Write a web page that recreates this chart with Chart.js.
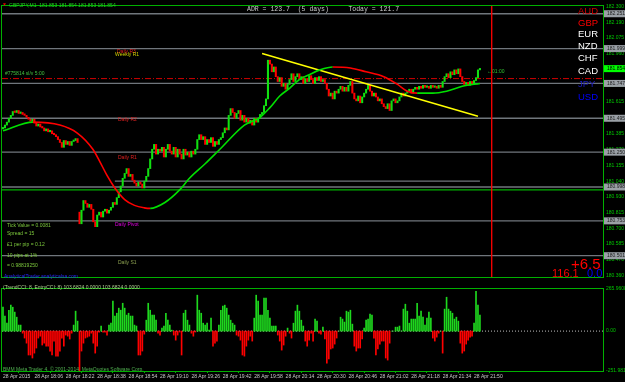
<!DOCTYPE html>
<html>
<head>
<meta charset="utf-8">
<script src="https://cdn.jsdelivr.net/npm/chart.js@4.4.1/dist/chart.umd.min.js"></script>
<style>
html, body { margin: 0; padding: 0; background: #000; }
#wrap { position: relative; width: 625px; height: 382px; overflow: hidden; background: #000; }
canvas { position: absolute; left: 0; }
.t { position: absolute; white-space: nowrap; font-family: "Liberation Sans", Arial, sans-serif; font-size: 5px; line-height: 1; }
.cur { font-size: 9.5px; left: 578px; }
</style>
</head>
<body>
<div id="wrap">
  <canvas id="price" width="625" height="283" style="top:0"></canvas>
  <canvas id="cci" width="625" height="99" style="top:283px"></canvas>

  <div class="t" style="left:2px;top:2px;color:#e00000">&#9660;</div>
  <div class="t" style="left:9px;top:2.5px;color:#20d020">GBPJPY,M1&nbsp; 181.853 181.854 181.853 181.854</div>
  <div class="t" style="left:247px;top:6.5px;font-family:'Liberation Mono',monospace;font-size:6.5px;color:#c8c8c8;white-space:pre">ADR = 123.7  (5 days)     Today = 121.7</div>

  <div class="t cur" style="top:6px;color:#cc0000">AUD</div>
  <div class="t cur" style="top:18px;color:#ff0000">GBP</div>
  <div class="t cur" style="top:29px;color:#ffffff">EUR</div>
  <div class="t cur" style="top:41px;color:#ffffff">NZD</div>
  <div class="t cur" style="top:53px;color:#ffffff">CHF</div>
  <div class="t cur" style="top:66px;color:#ffffff">CAD</div>
  <div class="t cur" style="top:79px;color:#1c1cc0">JPY</div>
  <div class="t cur" style="top:92px;color:#0000ff">USD</div>

  <div class="t" style="left:117px;top:48.5px;color:#e02020">Daily R3</div>
  <div class="t" style="left:115px;top:51.5px;color:#d0d000">Weekly R1</div>
  <div class="t" style="left:118px;top:116.5px;color:#e02020">Daily R2</div>
  <div class="t" style="left:118px;top:154.5px;color:#e02020">Daily R1</div>
  <div class="t" style="left:115px;top:221.5px;color:#e000e0">Daily Pivot</div>
  <div class="t" style="left:118px;top:259.5px;color:#8ca050">Daily S1</div>

  <div class="t" style="left:5px;top:71px;color:#40c040">#775814 sl/v 5:00</div>
  <div class="t" style="left:487px;top:68.5px;color:#30c030">&#8592;01:00</div>

  <div class="t" style="left:7px;top:222.5px;color:#7cc83c">Tick Value = 0.0081</div>
  <div class="t" style="left:7px;top:230.5px;color:#7cc83c">Spread = 15</div>
  <div class="t" style="left:7px;top:241.5px;color:#7cc83c">£1 per pip = 0.12</div>
  <div class="t" style="left:7px;top:252.5px;color:#7cc83c">10 pips at 1%</div>
  <div class="t" style="left:7px;top:262.5px;color:#7cc83c">= 0.98819250</div>
  <div class="t" style="left:4px;top:273.5px;color:#2828ff">AnalyticalTrader.analyticalsa.com</div>

  <div class="t" style="left:571px;top:256px;font-size:15px;color:#ff0000">+6.5</div>
  <div class="t" style="left:552px;top:268px;font-size:11px;color:#ff0000">116.1</div>
  <div class="t" style="left:587px;top:268px;font-size:11px;color:#0000ff">0.0</div>

  <div class="t" style="left:3px;top:285px;color:#b0d090">(TrendCCI: 8, EntryCCI: 8) 103.6824 0.0000 103.6824 0.0000</div>
  <div class="t" style="left:3px;top:366.5px;color:#50b050">BMM Meta Trader 4, © 2001-2014, MetaQuotes Software Corp.</div>
</div>

<script>
// GBPJPY M1, one bar per minute from 17:50
const opens = [
  181.418, 181.425, 181.446, 181.467, 181.495, 181.516, 181.544, 181.537, 181.551, 181.530,
  181.537, 181.523, 181.516, 181.502, 181.488, 181.474, 181.488, 181.460, 181.439, 181.453,
  181.432, 181.425, 181.404, 181.418, 181.397, 181.404, 181.383, 181.376, 181.362, 181.341,
  181.320, 181.285, 181.334, 181.306, 181.327, 181.299, 181.327, 181.334, 181.348, 180.816,
  180.732, 180.830, 180.900, 180.879, 180.851, 180.872, 180.837, 180.746, 180.711, 180.795,
  180.816, 180.781, 180.823, 180.837, 180.809, 180.830, 180.851, 180.886, 180.872, 180.921,
  180.963, 181.005, 181.061, 181.096, 181.131, 181.075, 181.089, 181.047, 181.026, 181.005,
  181.033, 181.019, 180.991, 181.040, 181.075, 181.131, 181.201, 181.271, 181.306, 181.236,
  181.271, 181.257, 181.285, 181.215, 181.271, 181.306, 181.257, 181.236, 181.285, 181.215,
  181.271, 181.236, 181.201, 181.271, 181.229, 181.250, 181.215, 181.257, 181.236, 181.271,
  181.341, 181.376, 181.341, 181.362, 181.306, 181.341, 181.320, 181.355, 181.292, 181.327,
  181.306, 181.341, 181.355, 181.390, 181.425, 181.411, 181.516, 181.565, 181.537, 181.495,
  181.530, 181.551, 181.481, 181.516, 181.467, 181.495, 181.460, 181.481, 181.446, 181.495,
  181.467, 181.495, 181.523, 181.537, 181.586, 181.635, 181.915, 181.887, 181.831, 181.866,
  181.796, 181.761, 181.789, 181.726, 181.747, 181.705, 181.740, 181.775, 181.817, 181.761,
  181.796, 181.817, 181.775, 181.796, 181.747, 181.782, 181.761, 181.803, 181.775, 181.747,
  181.789, 181.768, 181.796, 181.761, 181.775, 181.747, 181.705, 181.656, 181.677, 181.635,
  181.691, 181.677, 181.705, 181.726, 181.691, 181.719, 181.691, 181.733, 181.761, 181.677,
  181.635, 181.621, 181.656, 181.607, 181.649, 181.677, 181.705, 181.733, 181.691, 181.656,
  181.677, 181.649, 181.621, 181.635, 181.600, 181.579, 181.565, 181.600, 181.551, 181.621,
  181.635, 181.607, 181.621, 181.649, 181.677, 181.656, 181.677, 181.691, 181.705, 181.677,
  181.705, 181.719, 181.705, 181.726, 181.712, 181.733, 181.719, 181.726, 181.712, 181.733,
  181.719, 181.726, 181.712, 181.733, 181.719, 181.761, 181.796, 181.817, 181.789, 181.831,
  181.810, 181.845, 181.817, 181.852, 181.796, 181.761, 181.740, 181.754, 181.733, 181.761,
  181.747, 181.768, 181.789, 181.845
];
const closes = [
  181.425, 181.446, 181.467, 181.495, 181.516, 181.544, 181.537, 181.551, 181.530, 181.537,
  181.523, 181.516, 181.502, 181.488, 181.474, 181.488, 181.460, 181.439, 181.453, 181.432,
  181.425, 181.404, 181.418, 181.397, 181.404, 181.383, 181.376, 181.362, 181.341, 181.320,
  181.285, 181.334, 181.306, 181.327, 181.299, 181.327, 181.334, 181.348, 181.320, 180.732,
  180.830, 180.900, 180.879, 180.851, 180.872, 180.837, 180.746, 180.711, 180.795, 180.816,
  180.781, 180.823, 180.837, 180.809, 180.830, 180.851, 180.886, 180.872, 180.921, 180.963,
  181.005, 181.061, 181.096, 181.131, 181.075, 181.089, 181.047, 181.026, 181.005, 181.033,
  181.019, 180.991, 181.040, 181.075, 181.131, 181.201, 181.271, 181.306, 181.236, 181.271,
  181.257, 181.285, 181.215, 181.271, 181.306, 181.257, 181.236, 181.285, 181.215, 181.271,
  181.236, 181.201, 181.271, 181.229, 181.250, 181.215, 181.257, 181.236, 181.271, 181.341,
  181.376, 181.341, 181.362, 181.306, 181.341, 181.320, 181.355, 181.292, 181.327, 181.306,
  181.341, 181.355, 181.390, 181.425, 181.411, 181.516, 181.565, 181.537, 181.495, 181.530,
  181.551, 181.481, 181.516, 181.467, 181.495, 181.460, 181.481, 181.446, 181.495, 181.467,
  181.495, 181.523, 181.537, 181.586, 181.635, 181.915, 181.887, 181.831, 181.866, 181.796,
  181.761, 181.789, 181.726, 181.747, 181.705, 181.740, 181.775, 181.817, 181.761, 181.796,
  181.817, 181.775, 181.796, 181.747, 181.782, 181.761, 181.803, 181.775, 181.747, 181.789,
  181.768, 181.796, 181.761, 181.775, 181.747, 181.705, 181.656, 181.677, 181.635, 181.691,
  181.677, 181.705, 181.726, 181.691, 181.719, 181.691, 181.733, 181.761, 181.677, 181.635,
  181.621, 181.656, 181.607, 181.649, 181.677, 181.705, 181.733, 181.691, 181.656, 181.677,
  181.649, 181.621, 181.635, 181.600, 181.579, 181.565, 181.600, 181.551, 181.621, 181.635,
  181.607, 181.621, 181.649, 181.677, 181.656, 181.677, 181.691, 181.705, 181.677, 181.705,
  181.719, 181.705, 181.726, 181.712, 181.733, 181.719, 181.726, 181.712, 181.733, 181.719,
  181.726, 181.712, 181.733, 181.719, 181.761, 181.796, 181.817, 181.789, 181.831, 181.810,
  181.845, 181.817, 181.852, 181.796, 181.761, 181.740, 181.754, 181.733, 181.761, 181.747,
  181.768, 181.789, 181.845, 181.854
];

// moving average, sampled along the bars (bar index, price)
const maX = [0, 15.3, 29, 37.7, 45.8, 49.4, 53, 57, 62, 67, 72, 75, 82.5, 90, 95, 103, 110.5, 123, 131, 136,
             141, 146, 151, 156, 161.5, 168, 177, 185, 194, 201, 206, 211, 219, 226, 234, 243];
const maY = [181.404, 181.467, 181.446, 181.390, 181.271, 181.180, 181.082, 180.991, 180.907, 180.865,
             180.847, 180.843, 180.886, 180.977, 181.061, 181.166, 181.271, 181.446, 181.502, 181.572,
             181.656, 181.712, 181.775, 181.810, 181.845, 181.866, 181.859, 181.831, 181.796, 181.740,
             181.691, 181.677, 181.677, 181.691, 181.726, 181.747];

// TrendCCI histogram
const cci = [
  151, 95, 50, 132, 164, 151, 120, 88, 38, 38,
  -13, -44, -76, -151, -151, -170, -139, -107, -44, -32,
  -88, -76, -95, -95, -126, -151, -63, -158, -158, -126,
  -44, -95, -25, -32, -50, -13, 38, 126, 63, -252,
  -126, -76, -44, -38, -32, -13, -76, -139, -95, -6,
  32, -6, -6, -25, 38, 50, 189, 95, 113, 145,
  132, 176, 145, 101, 113, 95, 95, 38, 32, -151,
  -151, -126, -19, 69, 176, 132, 101, 101, 69, -13,
  -25, 19, 32, 113, 69, 38, 6, -25, -57, -25,
  -6, -151, 113, 132, 69, 38, -13, -32, -6, 227,
  132, 113, 50, 38, 50, 6, 82, -95, -76, -63,
  38, 132, 158, 164, 145, 101, 69, 50, 38, -25,
  -32, -57, -151, -158, -95, -57, -32, -63, 82, 227,
  189, 101, 101, 208, 208, 132, 82, 32, 32, 32,
  -25, -63, -120, -88, -32, 19, -13, -44, 50, 126,
  164, 126, 69, 32, -63, -95, -57, -13, -63, 76,
  63, -13, -19, 25, -50, -202, -176, -113, -107, -82,
  -44, 0, 88, 76, 57, 126, 120, 132, 44, -95,
  -126, -107, -107, -50, 19, 69, 76, 107, 101, -44,
  -151, -113, -82, -63, -63, -170, -183, -76, 0, 0,
  25, 25, 32, 0, 139, 170, 126, 50, 76, 76,
  76, 176, 95, 126, 88, 38, 82, 120, 82, -44,
  -63, -38, -13, 0, -139, 139, 214, 139, 126, 113,
  76, 88, 63, -76, -139, -126, -82, -57, -38, -32,
  50, 252, 164, 101
];

const pivotLevels = [182.251, 181.999, 181.747, 181.495, 181.250, 180.998, 180.753, 180.501];
const weeklyLevel = 181.040;
const greenLevel = 180.977;
const stopLevel = 181.782;
const lastPrice = 181.854;
const trendX = [132, 242];
const trendY = [181.964, 181.509];
const nowBar = 249;

const priceTicks = [182.300, 182.190, 182.075, 181.960, 181.845, 181.730, 181.615, 181.500, 181.385,
                    181.270, 181.155, 181.040, 180.930, 180.815, 180.700, 180.585, 180.470, 180.360];
const cciTicks = [-251.9813, 0, 265.9608];
const timeTicks = [0, 16, 32, 48, 64, 80, 96, 112, 128, 144, 160, 176, 192, 208, 224, 240];
const timeLabels = ['28 Apr 2015', '28 Apr 18:06', '28 Apr 18:22', '28 Apr 18:38', '28 Apr 18:54',
                    '28 Apr 19:10', '28 Apr 19:26', '28 Apr 19:42', '28 Apr 19:58', '28 Apr 20:14',
                    '28 Apr 20:30', '28 Apr 20:46', '28 Apr 21:02', '28 Apr 21:18', '28 Apr 21:34',
                    '28 Apr 21:50'];

const xMin = -0.5, xMax = 305.7;
const UP = '#10e010', DOWN = '#ff0000', FRAME = '#00b000', AXIS_TXT = '#00c800';

const frame = {
  id: 'frame',
  afterDraw(chart) {
    const { ctx, chartArea: a } = chart;
    ctx.save();
    ctx.strokeStyle = FRAME;
    ctx.lineWidth = 1;
    ctx.strokeRect(a.left - 0.5, a.top - 0.5, a.right - a.left + 1, a.bottom - a.top + 1);
    ctx.restore();
  }
};

// grey price boxes for the pivot lines, green box for the bid
const axisBoxes = {
  id: 'axisBoxes',
  afterDraw(chart) {
    const y = chart.scales.y, ctx = chart.ctx, x0 = chart.chartArea.right + 1;
    ctx.save();
    ctx.font = '5px "Liberation Sans"';
    ctx.textBaseline = 'middle';
    pivotLevels.forEach(v => {
      const py = y.getPixelForValue(v);
      ctx.fillStyle = '#9aa0a6';
      ctx.fillRect(x0, py - 3.5, 22, 7);
      ctx.fillStyle = '#202020';
      ctx.fillText(v.toFixed(3), x0 + 3, py);
    });
    const pc = y.getPixelForValue(lastPrice);
    ctx.fillStyle = '#00ff00';
    ctx.fillRect(x0, pc - 3.5, 22, 7);
    ctx.fillStyle = '#000';
    ctx.fillText(lastPrice.toFixed(3), x0 + 3, pc);
    ctx.restore();
  }
};

const hline = (v, color, width, dash, from, to) => ({
  type: 'line',
  data: [{ x: from ?? xMin, y: v }, { x: to ?? xMax, y: v }],
  borderColor: color, borderWidth: width, borderDash: dash || [],
  pointRadius: 0, order: 5
});

const yAxisText = { color: AXIS_TXT, font: { size: 5, family: 'Liberation Sans' }, padding: 3 };

new Chart(document.getElementById('price'), {
  type: 'bar',
  data: {
    datasets: [
      ...pivotLevels.map(v => hline(v, '#70767c', 1.3)),
      hline(weeklyLevel, '#70767c', 1.3, null, 57, 243),
      hline(greenLevel, '#00b000', 1.3),
      hline(stopLevel, '#d00000', 1, [6, 2, 1, 2]),
      {
        type: 'line',
        data: [{ x: nowBar, y: 180.347 }, { x: nowBar, y: 182.307 }],
        borderColor: '#ff0000', borderWidth: 1.3, pointRadius: 0, order: 4
      },
      {
        type: 'bar',
        data: closes.map((c, i) => ({ x: i, y: [opens[i], c] })),
        backgroundColor: closes.map((c, i) => c >= opens[i] ? UP : DOWN),
        barThickness: 1.4, minBarLength: 1.5, borderWidth: 0, grouped: false, order: 2
      },
      {
        type: 'line',
        data: trendX.map((x, i) => ({ x, y: trendY[i] })),
        borderColor: '#ffff00', borderWidth: 1.5, pointRadius: 0, order: 1
      },
      {
        type: 'line',
        data: maX.map((x, i) => ({ x, y: maY[i] })),
        borderWidth: 1.6, pointRadius: 0, cubicInterpolationMode: 'monotone',
        segment: { borderColor: c => c.p1.parsed.y >= c.p0.parsed.y ? '#00e000' : '#ff0000' },
        order: 0
      }
    ]
  },
  options: {
    responsive: false, animation: false, devicePixelRatio: 1,
    layout: { padding: { left: 2, top: 2, right: 0, bottom: 1 } },
    plugins: { legend: { display: false }, tooltip: { enabled: false } },
    scales: {
      x: { type: 'linear', min: xMin, max: xMax, offset: false, display: false },
      y: {
        position: 'right', min: 180.347, max: 182.307,
        afterFit: s => { s.width = 22; },
        afterBuildTicks: s => { s.ticks = priceTicks.map(v => ({ value: v })); },
        ticks: { ...yAxisText, callback: v => v.toFixed(3) },
        grid: { display: false, drawTicks: false, tickLength: 0 },
        border: { display: false }
      }
    }
  },
  plugins: [frame, axisBoxes]
});

new Chart(document.getElementById('cci'), {
  type: 'bar',
  data: {
    datasets: [
      {
        type: 'line',
        data: [{ x: xMin, y: 0 }, { x: xMax, y: 0 }],
        borderColor: '#c0c0c0', borderWidth: 1, borderDash: [1, 2], pointRadius: 0, order: 5
      },
      {
        type: 'bar',
        data: cci.map((v, i) => ({ x: i, y: v })),
        backgroundColor: cci.map(v => v >= 0 ? '#1ed81e' : '#ff0000'),
        barThickness: 1, borderWidth: 0, grouped: false, order: 1
      }
    ]
  },
  options: {
    responsive: false, animation: false, devicePixelRatio: 1,
    layout: { padding: { left: 2, top: 2, right: 0, bottom: 0 } },
    plugins: { legend: { display: false }, tooltip: { enabled: false } },
    scales: {
      x: {
        type: 'linear', min: xMin, max: xMax, offset: false, position: 'bottom',
        afterFit: s => { s.height = 11; },
        afterBuildTicks: s => { s.ticks = timeTicks.map(v => ({ value: v })); },
        ticks: {
          color: '#c8c8c8', font: { size: 5, family: 'Liberation Sans' }, align: 'start',
          maxRotation: 0, autoSkip: false, padding: 1,
          callback: (v, i) => timeLabels[i]
        },
        grid: { drawOnChartArea: false, tickLength: 2, color: FRAME },
        border: { color: FRAME }
      },
      y: {
        position: 'right', min: -251.9813, max: 265.9608,
        afterFit: s => { s.width = 22; },
        afterBuildTicks: s => { s.ticks = cciTicks.map(v => ({ value: v })); },
        ticks: { ...yAxisText, callback: v => v === 0 ? '0.00' : v.toFixed(4) },
        grid: { display: false, drawTicks: false, tickLength: 0 },
        border: { display: false }
      }
    }
  },
  plugins: [frame]
});
</script>
</body>
</html>
